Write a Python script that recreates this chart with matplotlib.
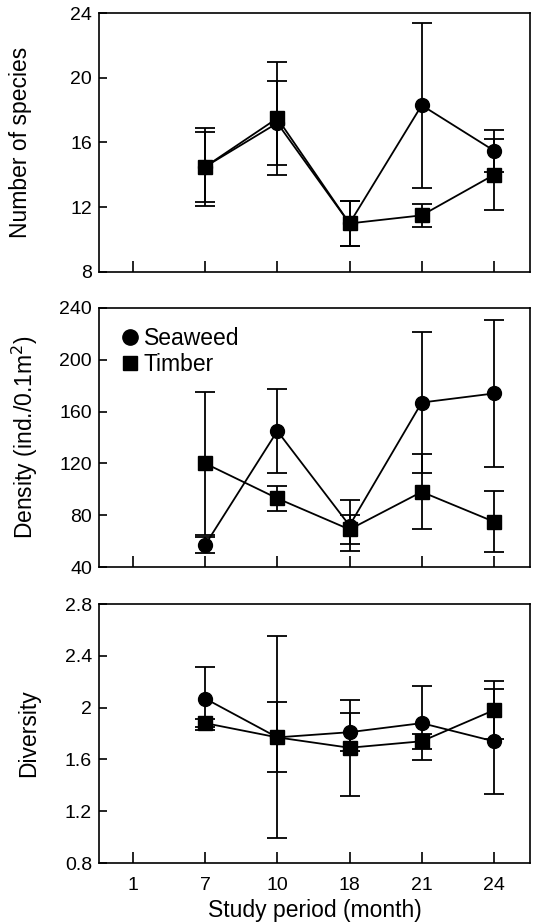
import numpy as np
import matplotlib.pyplot as plt
from matplotlib.ticker import FuncFormatter
from matplotlib.lines import Line2D

plt.rcParams['font.family'] = ['Liberation Sans', 'DejaVu Sans']

# x categories (months), plotted at equal spacing
months = ['1', '7', '10', '18', '21', '24']
data_months = ['7', '10', '18', '21', '24']

# Number of species
sp_seaweed = [14.5, 17.2, 11.0, 18.3, 15.5]
sp_seaweed_err = [2.4, 2.6, 1.4, 5.1, 1.3]
sp_timber = [14.5, 17.5, 11.0, 11.5, 14.0]
sp_timber_err = [2.15, 3.5, 1.4, 0.7, 2.2]

# Density (ind./0.1 m2)
den_seaweed = [57, 145, 72, 167, 174]
den_seaweed_err = [6, 32.5, 20, 54.5, 56.6]
den_timber = [120, 93, 69, 98, 75]
den_timber_err = [55, 9.7, 11, 29, 23.5]

# Diversity
div_seaweed = [2.07, 1.77, 1.81, 1.88, 1.74]
div_seaweed_err = [0.24, 0.27, 0.145, 0.285, 0.405]
div_timber = [1.88, 1.77, 1.69, 1.74, 1.98]
div_timber_err = [0.03, 0.78, 0.37, 0.06, 0.225]

panels = [
    ('Number of species', sp_seaweed, sp_seaweed_err, sp_timber, sp_timber_err,
     (8, 24), [8, 12, 16, 20, 24]),
    ('Density (ind./0.1m$^2$)', den_seaweed, den_seaweed_err, den_timber, den_timber_err,
     (40, 240), [40, 80, 120, 160, 200, 240]),
    ('Diversity', div_seaweed, div_seaweed_err, div_timber, div_timber_err,
     (0.8, 2.8), [0.8, 1.2, 1.6, 2.0, 2.4, 2.8]),
]

W, H = 533, 922
fig = plt.figure(figsize=(W / 100, H / 100), dpi=100)

# axes boxes in pixels: (top, bottom), and x of the y label's right edge
boxes = [(13, 272), (308, 567), (604, 863)]
label_x = [32, 40, 40]
left, right = 99, 530

x_all = np.arange(len(months))
x_data = np.array([months.index(m) for m in data_months])

for i, (ylabel, sw, swe, tb, tbe, ylim, yticks) in enumerate(panels):
    top, bot = boxes[i]
    ax = fig.add_axes([left / W, 1 - bot / H, (right - left) / W, (bot - top) / H])

    style = dict(color='black', lw=1.3, elinewidth=1.3, capsize=7, capthick=1.3)
    ax.errorbar(x_data, sw, yerr=swe, fmt='-o', ms=10, **style)
    ax.errorbar(x_data, tb, yerr=tbe, fmt='-s', ms=10.5, **style)

    ax.set_xlim(-0.47, 5.5)
    ax.set_ylim(*ylim)
    ax.set_yticks(yticks)
    ax.yaxis.set_major_formatter(FuncFormatter(lambda v, p: '%g' % v))
    ax.set_xticks(x_all)
    if i == 2:
        ax.set_xticklabels(months)
        ax.set_xlabel('Study period (month)', fontsize=16.5, labelpad=3.5)
    else:
        ax.set_xticklabels([])
    ax.tick_params(axis='x', direction='in', length=8, width=1.2, labelsize=14, pad=10)
    ax.tick_params(axis='y', direction='in', length=6, width=1.2, labelsize=14, pad=5)
    ax.set_ylabel(ylabel, fontsize=16.5)
    ax.yaxis.set_label_coords((label_x[i] - left) / (right - left), 0.5)
    for s in ax.spines.values():
        s.set_linewidth(1.2)

    if i == 1:
        handles = [Line2D([], [], ls='none', marker='o', ms=11, color='black'),
                   Line2D([], [], ls='none', marker='s', ms=10.5, color='black')]
        ax.legend(handles, ['Seaweed', 'Timber'], loc='upper left', frameon=False,
                  fontsize=16.5, handletextpad=0.1, borderaxespad=0.45,
                  labelspacing=0.1, handlelength=1.0)

fig.savefig('out.png', dpi=100)
